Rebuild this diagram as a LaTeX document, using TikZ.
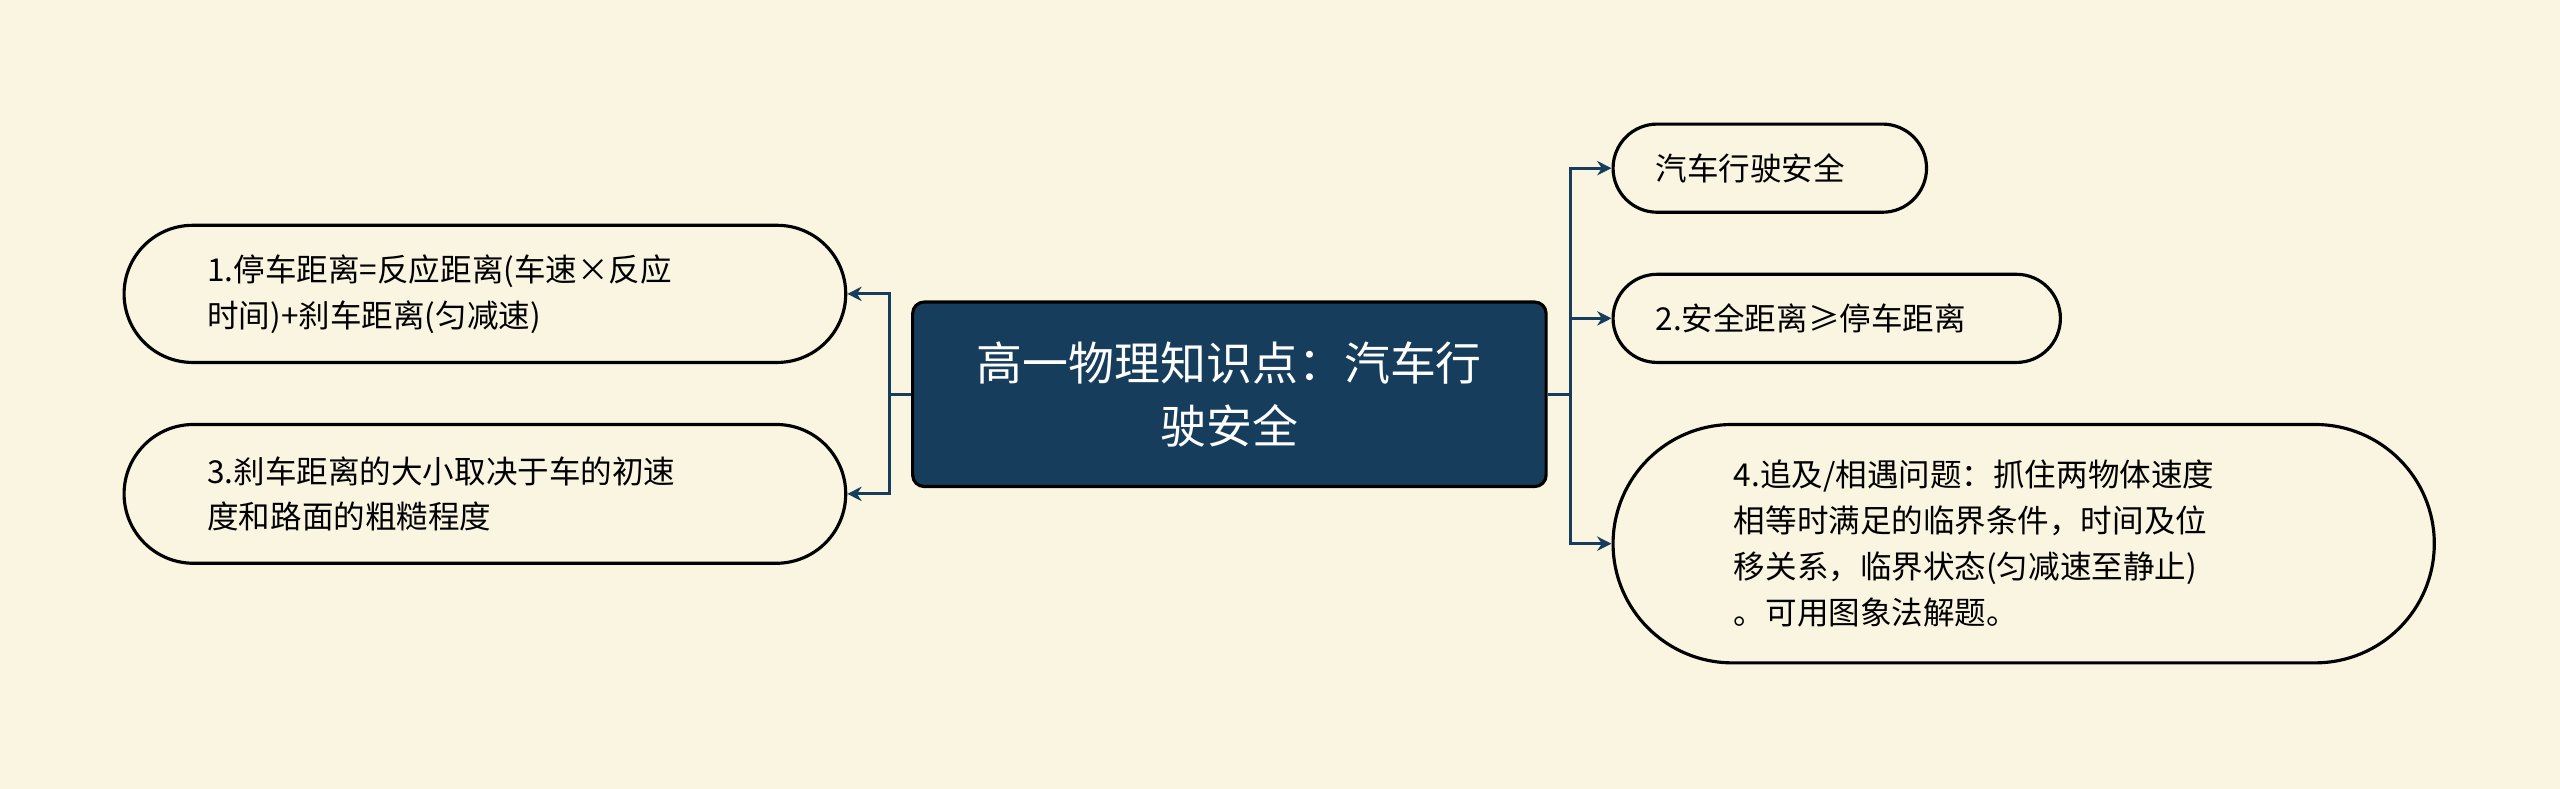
\documentclass[tikz,border=0pt]{standalone}
\usepackage{fontspec}
\setmainfont{Noto Sans CJK SC}
\usetikzlibrary{shapes.misc,arrows.meta}
\definecolor{bgcol}{HTML}{FAF5E1}
\definecolor{navy}{HTML}{173D5C}
\begin{document}
\begin{tikzpicture}[x=0.02cm,y=-0.02cm,
  topic/.style={shape=rectangle,draw=black,line width=1.1pt,rounded corners=4pt,fill=navy,text=white,font=\fontsize{16}{22}\selectfont,align=center,minimum width=388*0.02cm,minimum height=113*0.02cm},
  leaf/.style={shape=rounded rectangle,draw=black,line width=1.1pt,fill=bgcol,font=\fontsize{11}{16}\selectfont,align=left,inner xsep=0pt},
  link/.style={draw=navy,line width=1pt,-{Stealth[length=5pt,width=5pt]}}
]
  \fill[bgcol] (0,0) rectangle (1568,483);
  \node[topic] (root) at (753,241.5) {高一物理知识点：汽车行\\驶安全};

  \node[leaf,minimum width=442*0.02cm,minimum height=84*0.02cm,text width=340*0.02cm] (stop) at (297,180) {1.停车距离=反应距离(车速×反应\\时间)+刹车距离(匀减速)};
  \node[leaf,minimum width=442*0.02cm,minimum height=85*0.02cm,text width=340*0.02cm] (brake) at (297,302.5) {3.刹车距离的大小取决于车的初速\\度和路面的粗糙程度};
  \node[leaf,minimum width=192*0.02cm,minimum height=54*0.02cm,text width=140*0.02cm] (safe) at (1084,103) {汽车行驶安全};
  \node[leaf,minimum width=274*0.02cm,minimum height=54*0.02cm,text width=222*0.02cm] (dist) at (1125,195) {2.安全距离≥停车距离};
  \node[leaf,minimum width=503*0.02cm,minimum height=146*0.02cm,text width=355*0.02cm] (chase) at (1239.5,333) {4.追及/相遇问题：抓住两物体速度\\相等时满足的临界条件，时间及位\\移关系，临界状态(匀减速至静止)\\。可用图象法解题。};

  \coordinate (lj) at (545,241.5);
  \coordinate (rj) at (962,241.5);
  \draw[navy,line width=1pt] (root.west) -- (lj);
  \draw[navy,line width=1pt] (root.east) -- (rj);
  \draw[link] (lj) |- (stop.east);
  \draw[link] (lj) |- (brake.east);
  \draw[link] (rj) |- (safe.west);
  \draw[link] (rj) |- (dist.west);
  \draw[link] (rj) |- (chase.west);
\end{tikzpicture}
\end{document}
